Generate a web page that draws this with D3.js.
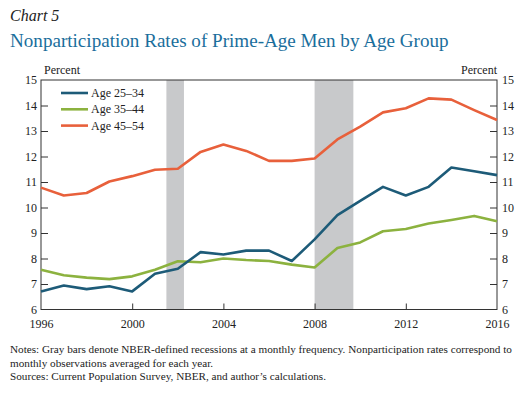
<!DOCTYPE html>
<html><head><meta charset="utf-8">
<script src="https://cdn.jsdelivr.net/npm/d3@7"></script>
<style>body{margin:0;background:#fff}svg{display:block}</style>
</head><body>
<svg id="c" width="527" height="393"></svg>
<script>
const years = d3.range(1996, 2017);
const age2534 = [6.71,6.94,6.80,6.91,6.71,7.40,7.60,8.25,8.16,8.31,8.31,7.90,8.75,9.70,10.26,10.81,10.47,10.81,11.57,11.42,11.27];
const age3544 = [7.56,7.34,7.25,7.19,7.30,7.56,7.89,7.85,8.00,7.94,7.90,7.76,7.65,8.41,8.63,9.07,9.16,9.37,9.51,9.67,9.46];
const age4554 = [10.78,10.47,10.57,11.02,11.23,11.48,11.52,12.18,12.47,12.22,11.83,11.83,11.92,12.67,13.17,13.73,13.89,14.28,14.23,13.82,13.43];
const recessions = [[2001.5, 2002.27], [2008.0, 2009.7]];
const seriesNames = ["Age 25\u201334", "Age 35\u201344", "Age 45\u201354"];
const colors = ["#1d5b78", "#8cb23f", "#e8603b"];
const xTicks = [1996, 2000, 2004, 2008, 2012, 2016];
const yTicks = d3.range(6, 16);

const svg = d3.select("#c");
const font = "'Liberation Serif', 'DejaVu Serif', serif";
const L = 41, R = 497, T = 80, B = 309.5;
const x = d3.scaleLinear().domain([1996, 2016]).range([L, R]);
const y = d3.scaleLinear().domain([6, 15]).range([B, T]);

svg.append("text").attr("x", 10).attr("y", 21).attr("font-family", font)
  .attr("font-style", "italic").attr("font-size", 16).attr("fill", "#222").text("Chart 5");
svg.append("text").attr("x", 10).attr("y", 47).attr("font-family", font)
  .attr("font-size", 19.1).attr("fill", "#1a6e9c").text("Nonparticipation Rates of Prime-Age Men by Age Group");

svg.selectAll("rect.rec").data(recessions).enter().append("rect")
  .attr("x", d => x(d[0])).attr("width", d => x(d[1]) - x(d[0]))
  .attr("y", T).attr("height", B - T).attr("fill", "#c8c9cb");

const g = svg.append("g");
const ax = d3.axisBottom(x).tickValues(xTicks).tickSize(-6).tickPadding(10).tickFormat(d3.format("d"));
const gx = g.append("g").attr("transform", `translate(0,${B})`).call(ax);
gx.selectAll(".tick line").filter(d => d === 1996 || d === 2016).remove();
const ayl = d3.axisLeft(y).tickValues(yTicks).tickSize(-7).tickPadding(5);
const ayr = d3.axisRight(y).tickValues(yTicks).tickSize(-7).tickPadding(5);
const gl = g.append("g").attr("transform", `translate(${L},0)`).call(ayl);
const gr = g.append("g").attr("transform", `translate(${R},0)`).call(ayr);
[gl, gr].forEach(a => a.selectAll(".tick line").filter(d => d === 6 || d === 15).remove());
g.selectAll(".domain").remove();
g.selectAll("g").attr("font-family", font);
g.selectAll(".tick line").attr("stroke", "#333").attr("stroke-width", 1);
g.selectAll(".tick text").attr("font-family", font).attr("font-size", 12).attr("fill", "#222");
gl.selectAll(".tick text").attr("x", -4);
gr.selectAll(".tick text").attr("x", 5);

// frame
svg.append("rect").attr("x", L).attr("y", T).attr("width", R - L).attr("height", B - T)
  .attr("fill", "none").attr("stroke", "#333").attr("stroke-width", 1);

svg.append("text").attr("x", 44).attr("y", 74).attr("font-family", font).attr("font-size", 12).attr("fill", "#222").text("Percent");
svg.append("text").attr("x", 497).attr("y", 74).attr("text-anchor", "end").attr("font-family", font).attr("font-size", 12).attr("fill", "#222").text("Percent");

const line = d3.line().x((d, i) => x(years[i])).y(d => y(d));
const data = [age2534, age3544, age4554];
[2, 1, 0].forEach(i => {
  svg.append("path").datum(data[i]).attr("d", line).attr("fill", "none")
    .attr("stroke", colors[i]).attr("stroke-width", 2.6).attr("stroke-linejoin", "round");
});

const leg = svg.append("g");
seriesNames.forEach((n, i) => {
  const yy = 93 + i * 16.3;
  leg.append("line").attr("x1", 61).attr("x2", 88).attr("y1", yy).attr("y2", yy)
    .attr("stroke", colors[i]).attr("stroke-width", 2.6);
  leg.append("text").attr("x", 91).attr("y", yy + 4).attr("font-family", font)
    .attr("font-size", 12).attr("fill", "#222").text(n);
});

const notes = [
  "Notes: Gray bars denote NBER-defined recessions at a monthly frequency. Nonparticipation rates correspond to",
  "monthly observations averaged for each year.",
  "Sources: Current Population Survey, NBER, and author\u2019s calculations."
];
notes.forEach((t, i) => {
  svg.append("text").attr("x", 10).attr("y", 353 + i * 13.5).attr("font-family", font)
    .attr("font-size", 11.2).attr("fill", "#222").text(t);
});
</script>
</body></html>
